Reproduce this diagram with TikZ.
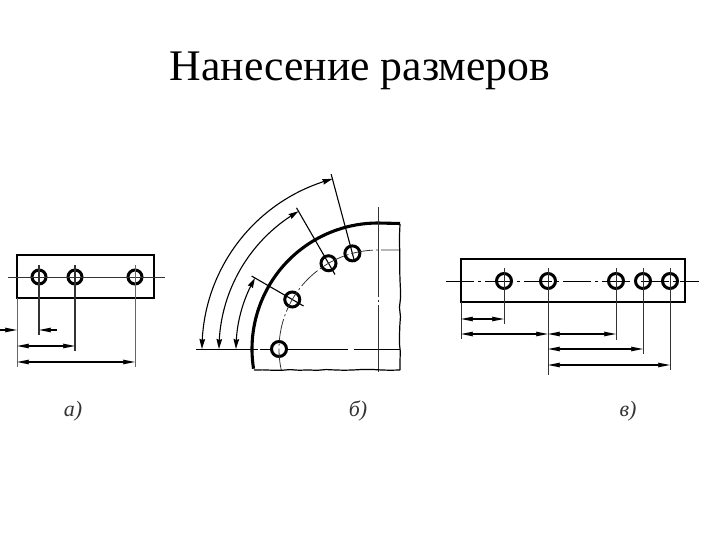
\documentclass[tikz,border=0pt]{standalone}
\usepackage{fontspec}
\setmainfont{Liberation Serif}
\usetikzlibrary{arrows.meta,bending,decorations.pathmorphing}
\tikzset{
  body/.style={draw=black,line width=2.8pt},
  hole/.style={circle,draw=black,line width=3pt,minimum size=14pt,inner sep=0pt,fill=none},
  thin line/.style={draw=black!80,line width=0.9pt},
  ext/.style={draw=black!60,line width=0.8pt},
  ctr/.style={draw=black!80,line width=0.8pt},
  dim/.style={draw=black,line width=1.1pt,{Stealth[length=12pt,width=4.6pt,inset=1pt]}-{Stealth[length=12pt,width=4.6pt,inset=1pt]}},
  dimb/.style={draw=black,line width=1.1pt,{Stealth[length=10pt,width=5.6pt,inset=1pt,bend]}-{Stealth[length=10pt,width=5.6pt,inset=1pt,bend]}},
  onearrow/.style={draw=black,line width=1.1pt,-{Stealth[length=12pt,width=4.6pt,inset=1pt]}},
  lab/.style={font=\itshape\fontsize{22}{26}\selectfont,text=black!80,inner sep=0pt},
  edgecut/.style={draw=black,line width=1.2pt,decorate,decoration={random steps,segment length=9pt,amplitude=0.7pt}}
}
\begin{document}
\begin{tikzpicture}[x=1pt,y=-1pt]
\useasboundingbox (0,0) rectangle (720,540);
\node[font=\fontsize{43.7}{50}\selectfont,inner sep=0pt] (title) at (360,71) {Нанесение размеров};
% panel a
\node[hole] (a1) at (39,277) {};
\node[hole] (a2) at (75,277) {};
\node[hole] (a3) at (135,277) {};
\draw[body] (17,255) rectangle (154,298);
\draw[thin line] (8,277) -- (165,277);
\draw[thin line,line width=1.1pt] (39,265) -- (39,335);
\draw[thin line,line width=1.1pt] (75,265) -- (75,351);
\draw[ext] (135,265) -- (135,367);
\draw[ext] (17,298) -- (17,367);
\draw[onearrow] (0,330) -- (17,330);
\draw[onearrow] (57,330) -- (39,330);
\draw[dim] (17,346) -- (75,346);
\draw[dim] (17,362) -- (135,362);
\node[lab] (la) at (73,411) {а)};
% panel b
\begin{scope}[shift={(378,349)},y=1pt]
  \node[hole,minimum size=15pt] (b1) at (180:99) {};
  \node[hole,minimum size=15pt] (b2) at (150:99) {};
  \node[hole,minimum size=15pt] (b3) at (120:99) {};
  \node[hole,minimum size=15pt] (b4) at (105:99) {};
  \coordinate (e2) at (150:146);
  \coordinate (e3) at (120:163);
  \coordinate (e4) at (105:181);
  \coordinate (i2) at (150:86);
  \coordinate (i3) at (120:86);
  \coordinate (i4) at (105:90);
  \draw[line width=1.1pt] (e2) -- (i2);
  \draw[line width=1.1pt] (e3) -- (i3);
  \draw[line width=1.1pt] (e4) -- (i4);
  \draw[draw=black,line width=3.1pt] (189:126) arc (189:90:126) -- ++(22,-0.5);
  \draw[ctr,dash pattern=on 22pt off 3pt on 2pt off 3pt] (192.5:99) arc (192.5:90:99) -- (22,99);
  \draw[dimb] (180:142) arc (180:150:142);
  \draw[dimb] (180:159) arc (180:120:159);
  \draw[dimb] (180:176) arc (180:105:176);
  \draw[line width=1pt] (-182,0) -- (-120,0);
  \draw[line width=0.8pt] (-118,0) -- (-108,0);
  \draw[line width=1pt] (-92,0) -- (-30,0);
  \draw[line width=1pt] (-24,0) -- (22,0);
  \draw[ctr,dash pattern=on 90pt off 3pt on 2pt off 3pt] (0,142) -- (0,-23);
  \coordinate (c1) at (-124,-21);
  \coordinate (c2) at (22,-21);
  \coordinate (c3) at (22,125);
  \draw[edgecut] (c1) -- (c2);
  \draw[edgecut] (c2) -- (c3);
\end{scope}
\node[lab] (lb) at (358,411) {б)};
% panel c
\node[hole,minimum size=15pt] (c1) at (504,281) {};
\node[hole,minimum size=15pt] (c2) at (548,281) {};
\node[hole,minimum size=15pt] (c3) at (616,281) {};
\node[hole,minimum size=15pt] (c4) at (643,281) {};
\node[hole,minimum size=15pt] (c5) at (670,281) {};
\draw[body] (461,259) rectangle (685,302);
\draw[line width=1pt,dash pattern=on 28pt off 4pt on 3pt off 4pt] (446,281) -- (699,281);
\draw[thin line] (504,268) -- (504,324);
\draw[thin line] (548,268) -- (548,375);
\draw[thin line] (616,268) -- (616,340);
\draw[thin line] (643,268) -- (643,354);
\draw[thin line] (670,268) -- (670,370);
\draw[thin line] (461,302) -- (461,339);
\draw[dim] (461,319) -- (504,319);
\draw[dim] (461,334) -- (548,334);
\draw[dim] (548,334) -- (616,334);
\draw[dim] (548,349) -- (643,349);
\draw[dim] (548,365) -- (670,365);
\node[lab] (lc) at (628,411) {в)};
\end{tikzpicture}
\end{document}
